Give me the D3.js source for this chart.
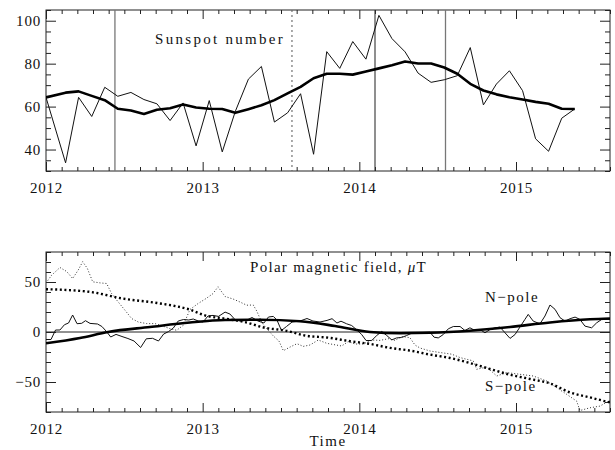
<!DOCTYPE html>
<html>
<head>
<meta charset="utf-8">
<script src="https://cdn.jsdelivr.net/npm/d3@7"></script>
<style>
  body { margin: 0; background: #fff; }
  text { font-family: "Liberation Serif", "DejaVu Serif", serif; fill: #111; }
  .tick text { font-size: 15px; letter-spacing: 0.8px; }
  .lbl { font-size: 15px; letter-spacing: 1.5px; }
</style>
</head>
<body>
<svg id="chart" width="615" height="450"></svg>
<script>
// ---- data ----
// sunspot number, monthly; first sample plotted at the start of the axis
const ssnTime = [2012.000, 2012.125, 2012.208, 2012.292, 2012.375, 2012.458, 2012.542, 2012.625, 2012.708, 2012.792, 2012.875, 2012.958,
  2013.042, 2013.125, 2013.208, 2013.292, 2013.375, 2013.458, 2013.542, 2013.625, 2013.708, 2013.792, 2013.875, 2013.958,
  2014.042, 2014.125, 2014.208, 2014.292, 2014.375, 2014.458, 2014.542, 2014.625, 2014.708, 2014.792, 2014.875, 2014.958,
  2015.042, 2015.125, 2015.208, 2015.292, 2015.375];
const ssnMonthly = [64.3, 33.8, 64.3, 55.4, 69.0, 64.8, 66.6, 63.3, 61.3, 53.5, 61.7, 41.7,
  62.8, 38.9, 57.7, 72.8, 78.7, 52.8, 57.1, 66.0, 37.8, 85.6, 77.8, 90.3,
  82.1, 102.5, 91.7, 85.5, 75.6, 71.3, 72.5, 74.4, 87.5, 60.8, 70.5, 76.7,
  67.4, 45.0, 39.2, 54.6, 58.9];
const ssnSmoothed = [64.3, 66.5, 67.1, 65.0, 63.0, 59.0, 58.2, 56.6, 58.5, 59.2, 61.0, 59.6,
  59.0, 58.9, 57.1, 58.8, 60.6, 63.0, 66.2, 69.2, 73.2, 75.3, 75.3, 74.9,
  76.4, 77.8, 79.3, 81.0, 80.1, 80.1, 78.2, 75.3, 70.6, 67.5, 65.7, 64.4,
  63.3, 62.2, 61.3, 59.0, 58.9];

// vertical marker lines in the sunspot panel (decimal years)
const eventTimes = [2012.44, 2013.57, 2014.10, 2014.55];

// polar field [year, uT]
const nPole = [[2012.000,-7.5],[2012.032,-7.5],[2012.061,2],[2012.089,2],[2012.118,7.3],[2012.144,9],[2012.170,17],[2012.198,8.3],
  [2012.228,8.7],[2012.252,11.3],[2012.281,8.6],[2012.329,8],[2012.357,5.5],[2012.386,0.5],[2012.413,-5],[2012.447,-2.4],
  [2012.485,-4.5],[2012.523,-6.5],[2012.562,-9],[2012.604,-15.5],[2012.640,-6.8],[2012.680,-6.3],[2012.718,-9],[2012.751,-2],
  [2012.781,0.3],[2012.813,4],[2012.844,11],[2012.878,12.5],[2012.911,12],[2012.940,13],[2012.972,11],[2013.002,10],
  [2013.034,16],[2013.066,16.6],[2013.101,15.6],[2013.143,19.9],[2013.174,18],[2013.206,12.5],[2013.238,11],[2013.277,11.5],
  [2013.315,14.5],[2013.353,11],[2013.391,9],[2013.420,15],[2013.451,15.6],[2013.474,12],[2013.503,1.5],[2013.535,5.5],
  [2013.570,9.9],[2013.621,11],[2013.666,13.5],[2013.704,11],[2013.749,10],[2013.794,11.6],[2013.826,13.3],[2013.857,9],
  [2013.883,10.8],[2013.919,8.2],[2013.951,6.5],[2013.983,2.2],[2014.015,-2.5],[2014.043,-8.5],[2014.079,-8.5],[2014.111,-3.5],
  [2014.143,0.5],[2014.175,-3.5],[2014.207,-7.9],[2014.238,-5.9],[2014.270,-5.5],[2014.302,-3.5],[2014.334,-1.2],[2014.368,-1],
  [2014.406,-0.5],[2014.451,-0.2],[2014.477,-5.2],[2014.504,-5.9],[2014.536,-2.5],[2014.568,3.2],[2014.600,5.5],[2014.643,5.5],
  [2014.674,1.5],[2014.706,4.2],[2014.738,1.5],[2014.770,2.5],[2014.802,-0.8],[2014.834,2.5],[2014.866,4.2],[2014.898,4.9],
  [2014.930,-0.8],[2014.962,-6.4],[2014.994,-2.5],[2015.025,4.9],[2015.057,12.6],[2015.078,17.6],[2015.110,10.9],[2015.153,8.2],
  [2015.185,16],[2015.217,27],[2015.249,22.7],[2015.281,14.3],[2015.313,10.9],[2015.345,13.3],[2015.377,14.9],[2015.408,12.6],
  [2015.440,5.9],[2015.483,4.2],[2015.515,9.2],[2015.547,12.6],[2015.600,12.6]];
const sPole = [[2012.000,49],[2012.036,56.8],[2012.089,64.5],[2012.132,60.5],[2012.170,53.5],[2012.206,62],[2012.234,70.3],[2012.264,63.6],
  [2012.298,50.2],[2012.345,49.1],[2012.387,48.5],[2012.419,38.4],[2012.461,30],[2012.504,21.8],[2012.547,13.4],[2012.589,10],
  [2012.643,8.4],[2012.696,8.4],[2012.749,5.7],[2012.791,3.4],[2012.834,1.7],[2012.876,6.7],[2012.919,22.5],[2012.970,28.4],
  [2013.021,33.4],[2013.066,38.4],[2013.098,45.2],[2013.143,35.5],[2013.194,33],[2013.238,30],[2013.281,26.8],[2013.323,27],
  [2013.345,21],[2013.379,9],[2013.409,3.4],[2013.451,-4],[2013.487,-9],[2013.515,-18.7],[2013.557,-15.1],[2013.602,-11.7],
  [2013.642,-14.4],[2013.685,-13],[2013.738,-8],[2013.792,-11.3],[2013.834,-12.5],[2013.887,-14],[2013.930,-9.5],[2013.972,-12],
  [2014.025,-12],[2014.079,-8],[2014.132,-8.4],[2014.185,-6.7],[2014.228,-8.4],[2014.270,-4.4],[2014.323,-5.7],[2014.355,-13],
  [2014.387,-16],[2014.451,-19],[2014.515,-20.5],[2014.590,-22.2],[2014.643,-25.6],[2014.727,-28.9],[2014.749,-37.3],[2014.813,-35],
  [2014.877,-44],[2014.941,-40.6],[2015.025,-42.3],[2015.110,-44],[2015.196,-49],[2015.260,-55.7],[2015.324,-62.4],[2015.387,-69.1],
  [2015.408,-78.5],[2015.472,-75.8],[2015.536,-74.1],[2015.600,-68.4]];
const nPoleSmooth = [[2012.000,-11.3],[2012.217,-6],[2012.396,0],[2012.664,5],[2012.919,9.5],[2013.143,12],[2013.366,12.3],
  [2013.621,10.8],[2013.845,6],[2014.068,0],[2014.260,-1.2],[2014.451,-0.8],[2014.706,1.3],[2014.962,5],[2015.217,9.5],
  [2015.472,12.7],[2015.600,13.5]];
const sPoleSmooth = [[2012.000,42.8],[2012.281,40.1],[2012.491,33.4],[2012.709,29],[2012.919,22.3],[2013.015,16.6],[2013.143,13.3],
  [2013.270,9.9],[2013.398,4.2],[2013.526,1.5],[2013.653,-3.5],[2013.813,-5.9],[2013.940,-9.2],[2014.068,-11.9],[2014.196,-15.9],
  [2014.323,-18.6],[2014.451,-22.6],[2014.579,-26],[2014.706,-31],[2014.834,-37],[2014.962,-42.7],[2015.089,-47],[2015.217,-51.4],
  [2015.345,-60.4],[2015.472,-65.4],[2015.600,-70.5]];

const yearTicks = [2012, 2013, 2014, 2015];
const ssnTicks = [40, 60, 80, 100];
const fieldTicks = [-50, 0, 50];

// ---- layout ----
const svg = d3.select("#chart");
const left = 46, right = 610;
const top1 = 10, bot1 = 171, top2 = 252, bot2 = 412;

const x = d3.scaleLinear().domain([2012, 2015.6]).range([left, right]);
const y1 = d3.scaleLinear().domain([30, 105]).range([bot1, top1]);
const y2 = d3.scaleLinear().domain([-80, 80]).range([bot2, top2]);

const minorYears = d3.range(20121, 20157).map(d => d / 10).filter(d => !yearTicks.includes(d));

function frame(y, top, bot, majorY, minorY, id) {
  svg.append("clipPath").attr("id", id)
    .append("rect").attr("x", left).attr("y", top).attr("width", right - left).attr("height", bot - top);

  // bottom / top x ticks (inside)
  let g = svg.append("g").attr("transform", "translate(0," + bot + ")")
    .call(d3.axisBottom(x).tickValues(yearTicks).tickSize(-9).tickPadding(11).tickFormat(d3.format("d")));
  g.select(".domain").remove();
  g = svg.append("g").attr("transform", "translate(0," + bot + ")")
    .call(d3.axisBottom(x).tickValues(minorYears).tickSize(-4).tickFormat(""));
  g.select(".domain").remove();
  g = svg.append("g").attr("transform", "translate(0," + top + ")")
    .call(d3.axisTop(x).tickValues(yearTicks).tickSize(-9).tickFormat(""));
  g.select(".domain").remove();
  g = svg.append("g").attr("transform", "translate(0," + top + ")")
    .call(d3.axisTop(x).tickValues(minorYears).tickSize(-4).tickFormat(""));
  g.select(".domain").remove();

  // left / right y ticks
  g = svg.append("g").attr("transform", "translate(" + left + ",0)")
    .call(d3.axisLeft(y).tickValues(majorY).tickSize(-10).tickPadding(5)
      .tickFormat(d => d < 0 ? "\u2212" + Math.abs(d) : d));
  g.select(".domain").remove();
  g = svg.append("g").attr("transform", "translate(" + left + ",0)")
    .call(d3.axisLeft(y).tickValues(minorY).tickSize(-5).tickFormat(""));
  g.select(".domain").remove();
  g = svg.append("g").attr("transform", "translate(" + right + ",0)")
    .call(d3.axisRight(y).tickValues(majorY).tickSize(-10).tickFormat(""));
  g.select(".domain").remove();
  g = svg.append("g").attr("transform", "translate(" + right + ",0)")
    .call(d3.axisRight(y).tickValues(minorY).tickSize(-5).tickFormat(""));
  g.select(".domain").remove();

  svg.selectAll(".tick line").attr("stroke", "#222");
  svg.selectAll(".tick text").attr("fill", "#111");

  svg.append("rect").attr("x", left).attr("y", top).attr("width", right - left).attr("height", bot - top)
    .attr("fill", "none").attr("stroke", "#222").attr("stroke-width", 1);
}

frame(y1, top1, bot1, ssnTicks, d3.range(30, 106, 5).filter(d => !ssnTicks.includes(d)), "clip1");
frame(y2, top2, bot2, fieldTicks, d3.range(-80, 81, 10).filter(d => !fieldTicks.includes(d)), "clip2");

// ---- top panel: sunspot number ----
const p1 = svg.append("g").attr("clip-path", "url(#clip1)");
const eventStyle = [
  { stroke: "#777", dash: null, w: 1.3 },
  { stroke: "#666", dash: "2,3", w: 1.1 },
  { stroke: "#333", dash: null, w: 1.1 },
  { stroke: "#777", dash: null, w: 1.3 }
];
p1.selectAll("line.event").data(eventTimes).join("line")
  .attr("class", "event")
  .attr("x1", d => x(d)).attr("x2", d => x(d))
  .attr("y1", top1).attr("y2", bot1)
  .attr("stroke", (d, i) => eventStyle[i].stroke)
  .attr("stroke-width", (d, i) => eventStyle[i].w)
  .attr("stroke-dasharray", (d, i) => eventStyle[i].dash);

const ssnLine = d3.line().x((d, i) => x(ssnTime[i])).y(d => y1(d));
p1.append("path").datum(ssnMonthly).attr("d", ssnLine)
  .attr("fill", "none").attr("stroke", "#111").attr("stroke-width", 1);
p1.append("path").datum(ssnSmoothed).attr("d", ssnLine)
  .attr("fill", "none").attr("stroke", "#000").attr("stroke-width", 2.6).attr("stroke-linejoin", "round");

svg.append("text").attr("class", "lbl").attr("x", 155).attr("y", 44)
  .style("letter-spacing", "2.3px").text("Sunspot number");

// ---- bottom panel: polar field ----
const p2 = svg.append("g").attr("clip-path", "url(#clip2)");
p2.append("line").attr("x1", left).attr("x2", right).attr("y1", y2(0)).attr("y2", y2(0))
  .attr("stroke", "#222").attr("stroke-width", 1);

const fieldLine = d3.line().x(d => x(d[0])).y(d => y2(d[1]));
const smoothLine = d3.line().x(d => x(d[0])).y(d => y2(d[1])).curve(d3.curveMonotoneX);

p2.append("path").datum(sPole).attr("d", fieldLine)
  .attr("fill", "none").attr("stroke", "#333").attr("stroke-width", 1).attr("stroke-dasharray", "1,2");
p2.append("path").datum(nPole).attr("d", fieldLine)
  .attr("fill", "none").attr("stroke", "#111").attr("stroke-width", 1);
p2.append("path").datum(sPoleSmooth).attr("d", smoothLine)
  .attr("fill", "none").attr("stroke", "#000").attr("stroke-width", 2.4).attr("stroke-dasharray", "2,2.6");
p2.append("path").datum(nPoleSmooth).attr("d", smoothLine)
  .attr("fill", "none").attr("stroke", "#000").attr("stroke-width", 2.6);

const title2 = svg.append("text").attr("class", "lbl").attr("x", 250).attr("y", 272)
  .style("letter-spacing", "1.3px");
title2.append("tspan").text("Polar magnetic field, ");
title2.append("tspan").attr("font-style", "italic").text("\u03bc");
title2.append("tspan").text("T");

svg.append("text").attr("class", "lbl").attr("x", 485).attr("y", 302).text("N\u2212pole");
svg.append("text").attr("class", "lbl").attr("x", 485).attr("y", 391).text("S\u2212pole");
svg.append("text").attr("class", "lbl").attr("x", (left + right) / 2).attr("y", 446)
  .attr("text-anchor", "middle").text("Time");
</script>
</body>
</html>
